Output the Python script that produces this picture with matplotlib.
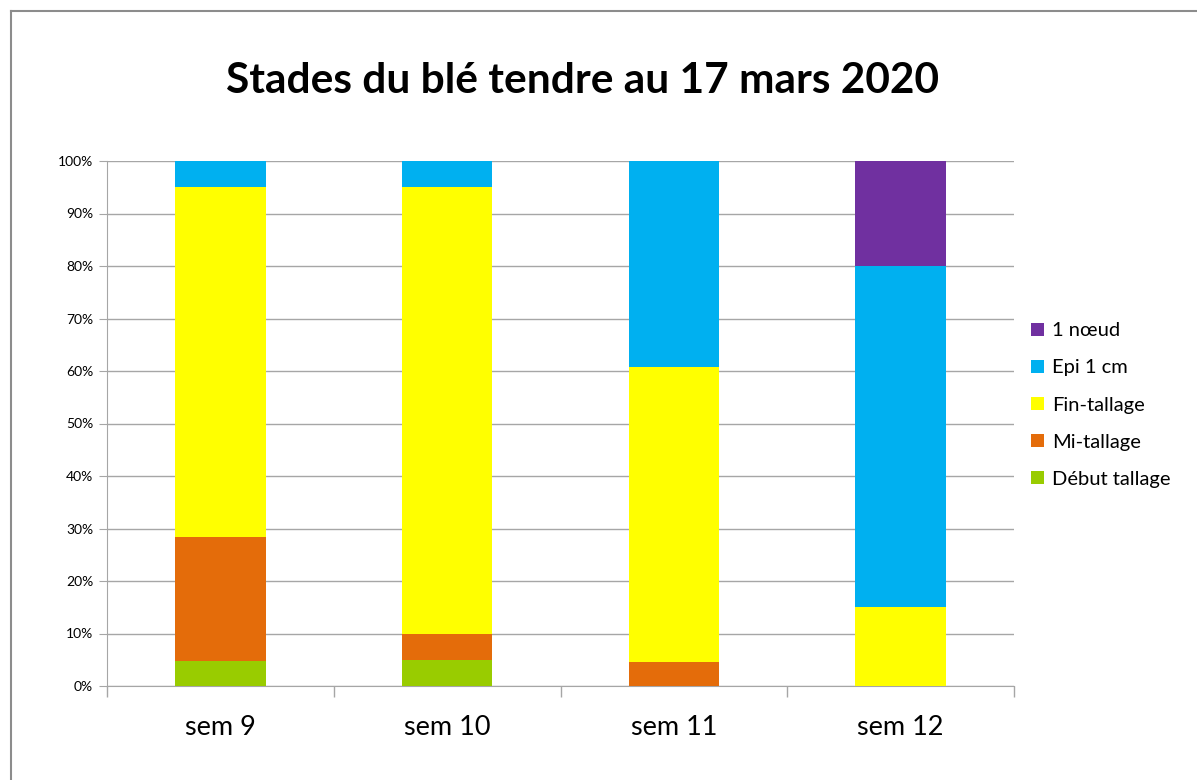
import matplotlib.pyplot as plt
from matplotlib.lines import Line2D
from matplotlib.ticker import PercentFormatter, FixedLocator

plt.rcParams['font.family'] = ['Lato', 'DejaVu Sans']

# données (en %)
semaines = ['sem 9', 'sem 10', 'sem 11', 'sem 12']
debut_tallage = [4.8, 5.0, 0.0, 0.0]
mi_tallage = [23.6, 5.0, 4.5, 0.0]
fin_tallage = [66.6, 85.0, 56.3, 15.0]
epi_1cm = [5.0, 5.0, 39.2, 65.0]
un_noeud = [0.0, 0.0, 0.0, 20.0]

series = [
    ('Début tallage', debut_tallage, '#99CC00'),
    ('Mi-tallage', mi_tallage, '#E46C0A'),
    ('Fin-tallage', fin_tallage, '#FFFF00'),
    ('Epi 1 cm', epi_1cm, '#00B0F0'),
    ('1 nœud', un_noeud, '#7030A0'),
]

fig = plt.figure(figsize=(11.97, 7.8), dpi=100)
ax = fig.add_axes([107 / 1197, 1 - 686 / 780, 907 / 1197, 525 / 780])

x = range(len(semaines))
bas = [0.0] * len(semaines)
for nom, vals, coul in series:
    ax.bar(x, vals, 0.4, bottom=bas, color=coul, label=nom, zorder=3)
    bas = [a + v for a, v in zip(bas, vals)]

ax.set_xlim(-0.5, 3.5)
ax.set_ylim(0, 100)
ax.yaxis.set_major_locator(FixedLocator(range(0, 101, 10)))
ax.yaxis.set_major_formatter(PercentFormatter(decimals=0))
ax.grid(axis='y', color='#a6a6a6', linewidth=1, zorder=0)

ax.set_xticks(list(x))
ax.set_xticklabels(semaines, fontsize=19.5)
ax.xaxis.set_minor_locator(FixedLocator([-0.5, 0.5, 1.5, 2.5, 3.5]))
ax.tick_params(axis='x', which='major', length=0, pad=21)
ax.tick_params(axis='x', which='minor', length=8, color='#a6a6a6', width=1)
ax.tick_params(axis='y', length=6, color='#a6a6a6', labelsize=10, pad=4)

for s in ['top', 'right']:
    ax.spines[s].set_visible(False)
for s in ['left', 'bottom']:
    ax.spines[s].set_color('#a6a6a6')

fig.text(582 / 1197, 1 - 81 / 780, 'Stades du blé tendre au 17 mars 2020',
         ha='center', va='center', fontsize=30.5, fontweight='bold')

h, l = ax.get_legend_handles_labels()
fig.legend(h[::-1], l[::-1], loc='center left',
           bbox_to_anchor=(1013 / 1197, 1 - 405 / 780), frameon=False,
           fontsize=14.5, handlelength=0.62, handleheight=0.62,
           handletextpad=0.4, labelspacing=1.0)

# cadre du graphique
fig.add_artist(Line2D([11 / 1197, 1], [1 - 11 / 780, 1 - 11 / 780],
                      color='#8c8c8c', linewidth=1.5))
fig.add_artist(Line2D([11 / 1197, 11 / 1197], [0, 1 - 11 / 780],
                      color='#8c8c8c', linewidth=1.5))

fig.savefig('out.png', dpi=100)
